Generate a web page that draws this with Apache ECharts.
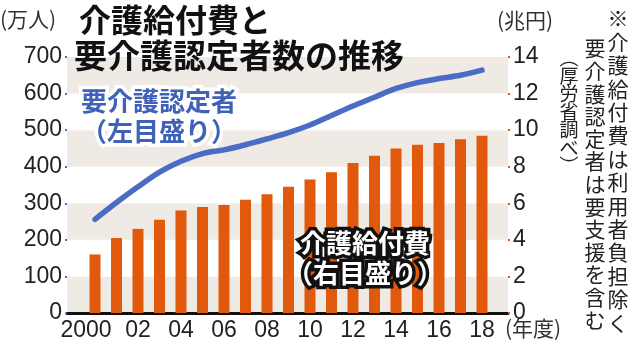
<!DOCTYPE html>
<html><head><meta charset="utf-8">
<script src="https://cdn.jsdelivr.net/npm/echarts@6/dist/echarts.min.js"></script>
<style>html,body{margin:0;padding:0;background:#fff}#c{width:640px;height:353px}</style>
</head><body><div id="c"></div>
<script>
const years = ['2000','01','02','03','04','05','06','07','08','09','10','11','12','13','14','15','16','17','18'];
const yearLabels = ['2000','','02','','04','','06','','08','','10','','12','','14','','16','','18'];
const careCost = [3.2, 4.1, 4.6, 5.1, 5.6, 5.8, 5.9, 6.2, 6.5, 6.9, 7.3, 7.7, 8.2, 8.6, 9.0, 9.2, 9.3, 9.5, 9.7]; // 兆円
const certified = [256, 302, 345, 385, 415, 436, 446, 460, 476, 493, 514, 540, 566, 590, 614, 630, 641, 650, 664]; // 万人
const leftTicks = [0, 700, 100];
const rightTicks = [0, 14, 2];

const JP = '"Noto Sans CJK JP", "Noto Sans", sans-serif';
const NUM = '"Liberation Sans", Arial, sans-serif';
const chart = echarts.init(document.getElementById('c'));

function vtext(chars, cx, top, size, lh, color) {
  return chars.split('').map((ch, i) => ({
    type: 'text', z: 100, left: cx - size / 2, top: top + i * lh,
    style: { text: ch, font: size + 'px ' + JP, fill: color }
  }));
}

const xData = yearLabels.map((v, i) => i === 0 ? { value: v, textStyle: { padding: [0, 18, 0, 0] } } : v);

chart.setOption({
  animation: false,
  grid: [
    { left: 67, right: 132, top: 57, bottom: 40 },
    { left: 84.25, right: 147.25, top: 57, bottom: 40 }
  ],
  xAxis: [
    { gridIndex: 0, type: 'value', min: 0, max: 1, axisLine: { show: true, lineStyle: { color: '#111', width: 3 } },
      axisTick: { show: false }, axisLabel: { show: false }, splitLine: { show: false } },
    { gridIndex: 1, type: 'category', data: xData, boundaryGap: true,
      axisLine: { show: false }, axisTick: { show: false },
      axisLabel: { interval: 0, fontSize: 23, fontFamily: NUM, color: '#222', margin: 6 } }
  ],
  yAxis: [
    { gridIndex: 0, type: 'value', min: leftTicks[0], max: leftTicks[1], interval: leftTicks[2], position: 'left',
      axisLine: { show: false }, axisTick: { show: true, length: 2, lineStyle: { color: '#4a6cc4', width: 2 } },
      axisLabel: { fontSize: 23, fontFamily: NUM, color: '#222', margin: 5 },
      splitLine: { show: false },
      splitArea: { show: true, areaStyle: { color: ['#efebe4', '#ffffff'] } } },
    { gridIndex: 0, type: 'value', min: rightTicks[0], max: rightTicks[1], interval: rightTicks[2], position: 'right',
      axisLine: { show: false }, axisTick: { show: true, length: 2, lineStyle: { color: '#e0590c', width: 2 } },
      axisLabel: { fontSize: 23, fontFamily: NUM, color: '#222', margin: 5 },
      splitLine: { show: false } },
    { gridIndex: 1, type: 'value', min: leftTicks[0], max: leftTicks[1], show: false, splitLine: { show: false } },
    { gridIndex: 1, type: 'value', min: rightTicks[0], max: rightTicks[1], show: false, splitLine: { show: false } }
  ],
  series: [
    { type: 'bar', xAxisIndex: 1, yAxisIndex: 3, data: careCost, barWidth: 11, itemStyle: { color: '#e0590c' } },
    { type: 'line', xAxisIndex: 1, yAxisIndex: 2, data: certified, smooth: 0.3, showSymbol: false,
      lineStyle: { color: '#4a6cc4', width: 5.5, cap: 'round' } }
  ],
  graphic: [
    { type: 'text', z: 100, left: 0, top: 9, style: { text: '(万人)', font: '21px ' + JP, fill: '#333' } },
    { type: 'text', z: 100, left: 497, top: 10, style: { text: '(兆円)', font: '21px ' + JP, fill: '#333' } },
    { type: 'text', z: 100, left: 505, top: 318, style: { text: '(年度)', font: '21px ' + JP, fill: '#333' } },
    { type: 'text', z: 100, left: 79, top: 4, style: { text: '介護給付費と', font: 'bold 32px ' + JP, fill: '#111' } },
    { type: 'text', z: 100, left: 74, top: 39, style: { text: '要介護認定者数の推移', font: 'bold 33px ' + JP, fill: '#111' } },
    { type: 'text', z: 100, x: 159, y: 86, style: { text: '要介護認定者\n（左目盛り）', font: 'bold 26px ' + JP, fill: '#3f62b8',
      stroke: '#fff', lineWidth: 7, align: 'center', lineHeight: 30 } },
    { type: 'text', z: 100, x: 365, y: 228, style: { text: '介護給付費\n（右目盛り）', font: 'bold 26px ' + JP, fill: '#fff',
      stroke: '#111', lineWidth: 7, align: 'center', lineHeight: 30 } },
    ...vtext('※介護給付費は利用者負担除く', 618, 8, 21, 23.4, '#222'),
    ...vtext('要介護認定者は要支援を含む', 595, 38, 21, 22.6, '#222'),
    ...vtext('︵厚労省調べ︶', 569, 48, 19, 18, '#222')
  ]
});
</script></body></html>
